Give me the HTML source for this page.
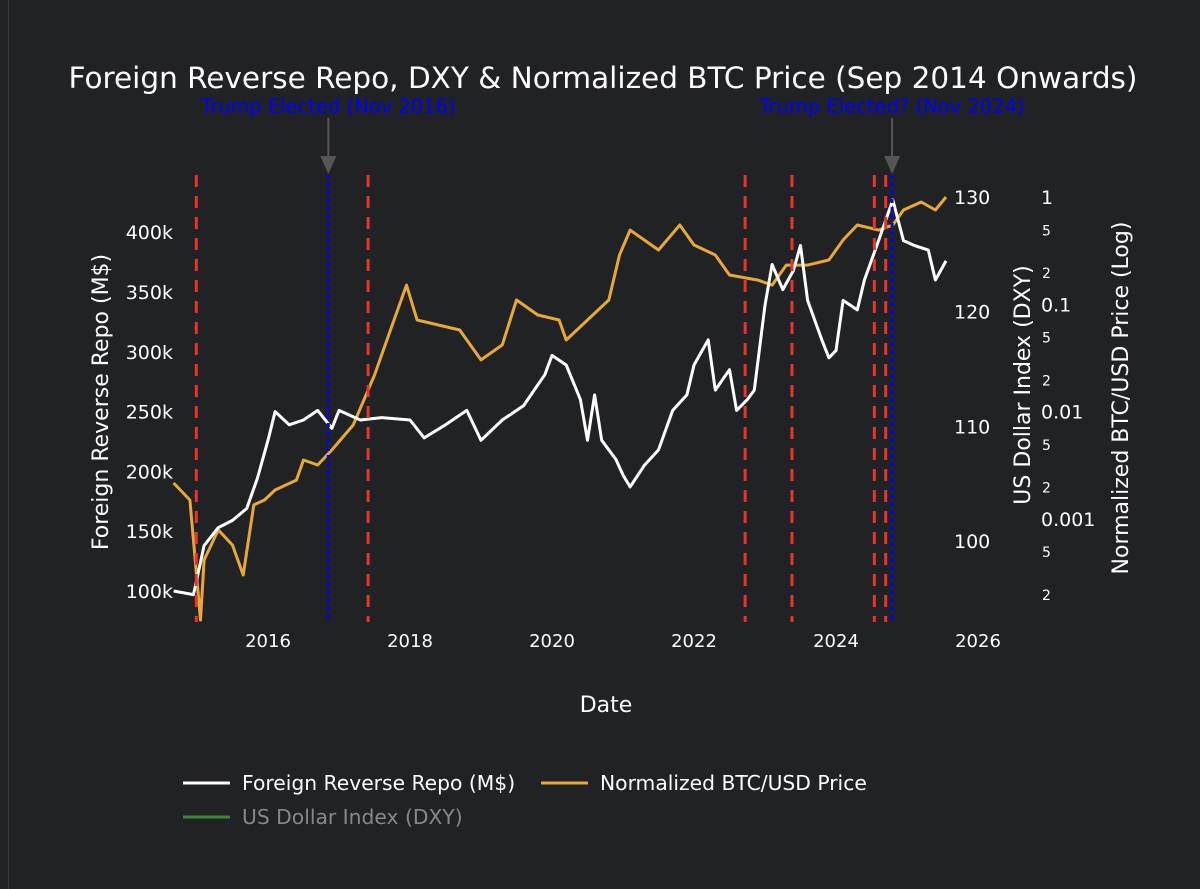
<!DOCTYPE html>
<html><head><meta charset="utf-8">
<style>
html,body{margin:0;padding:0;background:#202226;}
svg{display:block;font-family:"DejaVu Sans","Liberation Sans",sans-serif;}
</style></head>
<body>
<svg id="chart" width="1200" height="889" xmlns="http://www.w3.org/2000/svg">
<rect x="0" y="0" width="1200" height="889" fill="#202226"/>
<line x1="8.5" y1="0" x2="8.5" y2="889" stroke="#3a3c40" stroke-width="1"/>
<text x="603" y="88" fill="#fff" font-size="29.5" text-anchor="middle">Foreign Reverse Repo, DXY &amp; Normalized BTC Price (Sep 2014 Onwards)</text>
<g id="marks"></g>
<text x="606" y="712" fill="#fff" font-size="22" text-anchor="middle">Date</text>
<text transform="translate(108,402) rotate(-90)" fill="#fff" font-size="22" text-anchor="middle">Foreign Reverse Repo (M$)</text>
<text transform="translate(1030,385) rotate(-90)" fill="#fff" font-size="22" text-anchor="middle">US Dollar Index (DXY)</text>
<text transform="translate(1128,398) rotate(-90)" fill="#fff" font-size="22" text-anchor="middle">Normalized BTC/USD Price (Log)</text>
<g>
<g>
<line x1="183" y1="783" x2="230" y2="783" stroke="#fff" stroke-width="3"/>
<text x="242" y="790" fill="#fff" font-size="20.3">Foreign Reverse Repo (M$)</text></g>
<g>
<line x1="541" y1="783" x2="588" y2="783" stroke="#e8a838" stroke-width="3"/>
<text x="600" y="790" fill="#fff" font-size="20.3">Normalized BTC/USD Price</text></g>
<g>
<line x1="183" y1="817" x2="230" y2="817" stroke="#3a8a2e" stroke-width="3"/>
<text x="242" y="824" fill="#888" font-size="20.3">US Dollar Index (DXY)</text></g>
</g>
</svg>
<script>
const repoDates=[2014.67,2014.95,2015.1,2015.3,2015.5,2015.7,2015.85,2016.0,2016.1,2016.3,2016.5,2016.7,2016.9,2017.0,2017.3,2017.6,2018.0,2018.2,2018.5,2018.8,2019.0,2019.3,2019.6,2019.9,2020.0,2020.2,2020.4,2020.5,2020.6,2020.7,2020.9,2021.0,2021.1,2021.3,2021.5,2021.7,2021.9,2022.0,2022.2,2022.3,2022.5,2022.6,2022.75,2022.85,2023.0,2023.1,2023.25,2023.4,2023.5,2023.6,2023.8,2023.9,2024.0,2024.1,2024.3,2024.4,2024.6,2024.8,2024.95,2025.1,2025.3,2025.4,2025.55];
const repoValues=[100,97,138,153,159,169,194,226,250,239,243,251,236,251,243,245,243,228,239,251,226,243,255,281,297,289,260,226,264,226,210,197,187,205,218,251,264,289,310,268,285,251,260,268,339,373,352,368,389,343,310,295,301,343,335,360,393,427,393,389,385,360,376];
const btcDates=[2014.67,2014.9,2015.05,2015.1,2015.3,2015.5,2015.65,2015.8,2015.95,2016.1,2016.4,2016.5,2016.7,2016.9,2017.2,2017.5,2017.7,2017.95,2018.1,2018.4,2018.7,2019.0,2019.3,2019.5,2019.8,2020.1,2020.2,2020.5,2020.8,2020.95,2021.1,2021.3,2021.5,2021.8,2022.0,2022.3,2022.5,2022.9,2023.1,2023.3,2023.6,2023.9,2024.1,2024.3,2024.6,2024.8,2024.95,2025.2,2025.4,2025.55];
const btcValues=[0.00216,0.0015,0.000114,0.000414,0.00079,0.00057,0.0003,0.00135,0.0015,0.00186,0.0023,0.00354,0.00318,0.0044,0.0075,0.0219,0.0518,0.151,0.0714,0.0641,0.0576,0.0303,0.0418,0.1096,0.0795,0.0714,0.0465,0.0714,0.1096,0.288,0.492,0.397,0.321,0.548,0.357,0.288,0.1875,0.168,0.151,0.232,0.232,0.259,0.397,0.548,0.492,0.548,0.757,0.898,0.757,1.0];
const xTicks=[2016,2018,2020,2022,2024,2026];
const repoTicks=[100,150,200,250,300,350,400];
const dxyTicks=[100,110,120,130];
const btcMajor=[1,0.1,0.01,0.001];
const btcMinor=[0.5,0.2,0.05,0.02,0.005,0.002,0.0005,0.0002];
const redEvents=[2014.99,2017.41,2022.72,2023.38,2024.54,2024.70];
const blueEvents=[2016.85,2024.79];
const blueLabels=["Trump Elected (Nov 2016)","Trump Elected? (Nov 2024)"];

const NS="http://www.w3.org/2000/svg";
const g=document.getElementById('marks');
const X=y=>268+(y-2016)*71;
const YR=v=>591-(v-100)/50*59.8;
const YD=v=>541-(v-100)*11.47;
const YB=v=>197-Math.log10(v)*107.3;
const PT=175,PB=622;
function mk(tag,attrs){const e=document.createElementNS(NS,tag);for(const k in attrs)e.setAttribute(k,attrs[k]);g.appendChild(e);return e;}
function txt(x,y,s,size,anchor,fill){const t=mk('text',{x:x,y:y,fill:fill||'#fff','font-size':size,'text-anchor':anchor});t.textContent=s;return t;}

xTicks.forEach(t=>{const e=txt(X(t),647,String(t),18,'middle');

});
repoTicks.forEach(t=>{const e=txt(173,YR(t)+7,t+'k',19,'end');

});
dxyTicks.forEach(t=>{const e=txt(954,YD(t)+7,String(t),19,'start');

});
btcMajor.forEach(t=>{const e=txt(1041,YB(t)+7,String(t),19,'start');

});
btcMinor.forEach(t=>{const d=String(t).replace(/[0.]/g,'');const e=txt(1042,YB(t)+6,d,14,'start');

});

function path(dates,vals,fy,color,name){let d='';dates.forEach((t,i)=>{d+=(i?'L':'M')+X(t).toFixed(1)+','+Math.min(PB,fy(vals[i])).toFixed(1);});
const p=mk('path',{d:d,fill:'none',stroke:color,'stroke-width':3,'stroke-linejoin':'round'});

}
path(btcDates,btcValues,YB,'#e8a838','btc-line');
path(repoDates,repoValues,YR,'#ffffff','repo-line');

redEvents.forEach(t=>{const l=mk('line',{x1:X(t),x2:X(t),y1:PT,y2:PB,stroke:'#e8352b','stroke-width':3,'stroke-dasharray':'12,9'});

});
blueEvents.forEach((t,i)=>{const l=mk('line',{x1:X(t),x2:X(t),y1:PT,y2:PB,stroke:'#0000ff','stroke-width':3,'stroke-dasharray':'4,4'});


const a=mk('line',{x1:X(t),x2:X(t),y1:118,y2:158,stroke:'#555','stroke-width':2});


const h=mk('polygon',{points:`${X(t)-8},156 ${X(t)+8},156 ${X(t)},174`,fill:'#555'});


const e=txt(X(t),113,blueLabels[i],19.5,'middle','#0000ff');

});
</script>
</body></html>
